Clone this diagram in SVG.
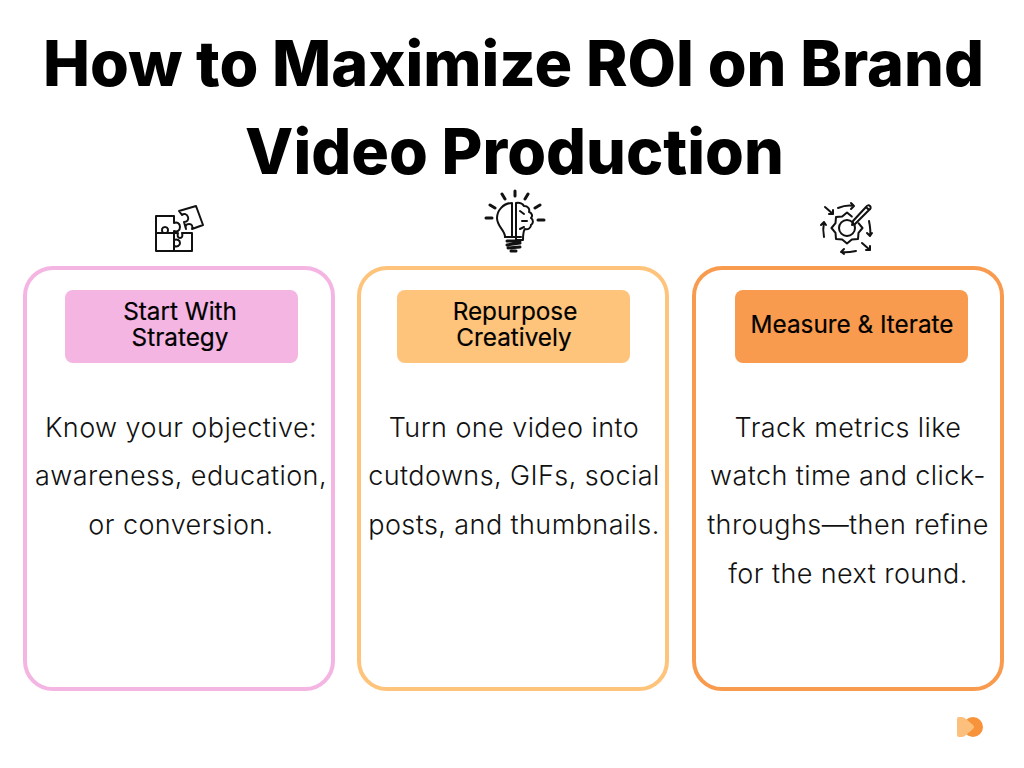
<svg xmlns="http://www.w3.org/2000/svg" width="1024" height="768" viewBox="0 0 1024 768">
<style>
text{font-family:Inter,"Liberation Sans",sans-serif;text-anchor:middle;fill:#000}
.t{font-size:62.800px;font-weight:800}
.h{font-size:24.300px;font-weight:400;stroke:#000;stroke-width:.2px}
.b{font-size:27px;font-weight:300;letter-spacing:.42px;fill:#111}
.card{fill:#fff;stroke-width:4}
.i{fill:none;stroke:#111;stroke-width:2;stroke-linecap:round;stroke-linejoin:round}
.r{stroke-width:3}
</style>
<rect width="1024" height="768" fill="#fff"/>
<g id="title"><text class="t" x="513.500" y="86">How to Maximize ROI on Brand</text><text class="t" x="514.500" y="174">Video Production</text></g>
<g id="card1">
<rect class="card" x="25" y="268" width="308" height="421" rx="28" stroke="#f4b5e3"/>
<rect x="65" y="290" width="233" height="73" rx="8" fill="#f4b5e3"/>
<text class="h"><tspan x="180" y="320">Start With</tspan><tspan x="180" y="346">Strategy</tspan></text>
<text class="b" x="181" y="437">Know your objective:</text><text class="b" x="181" y="485">awareness, education,</text><text class="b" x="181" y="534">or conversion.</text>
<g id="icon1" class="i"><path d="M156 216H174V223c3-1 6 0 6 4s-3 5-6 4V233H156ZM156 233h7c-2-3-1-6 2-6s4 3 2 6h7v18H156ZM174 233h4c-1 3 0 5 2 5s3-2 2-5h10v18H174v-5c3 1 6 0 6-3s-3-4-6-3Z"/><path d="M179 211l17-5 7 19-11 4c1-3 0-5-3-5s-4 2-3 5l-2-7c3 0 5-2 4-5s-4-4-6-2Z"/></g>
</g>
<g id="card2">
<rect class="card" x="359" y="268" width="308" height="421" rx="28" stroke="#fec47b"/>
<rect x="397" y="290" width="233" height="73" rx="8" fill="#fec47b"/>
<text class="h"><tspan x="515" y="320">Repurpose</tspan><tspan x="514" y="346">Creatively</tspan></text>
<text class="b" x="514" y="437">Turn one video into</text><text class="b" x="514" y="485">cutdowns, GIFs, social</text><text class="b" x="514" y="534">posts, and thumbnails.</text>
<g id="icon2" class="i"><path d="M512 203c-9 0-15 8-15 15 0 7 5 10 7 15 1 2 1 3 1 4h7ZM516 203c4-1 7 1 8 3 4 0 6 3 5 6 3 1 4 4 2 6 3 2 2 6 0 7 0 3-3 5-6 4-2 2-2 6-2 11h-7Z"/><path d="M520 211l4 3M522 221h5M520 229l4-2M505 237h16"/><path class="r" d="M507 241h13M507 245l13-2M508 248l12-1M511 251h5M515 191v5M502 194l3 5M528 194l-3 5M490 205l5 3M540 205l-5 3M486 218h6M544 220h-6"/></g>
</g>
<g id="card3">
<rect class="card" x="694" y="268" width="308" height="421" rx="28" stroke="#f99b4e"/>
<rect x="735" y="290" width="233" height="73" rx="8" fill="#f99b4e"/>
<text class="h" x="852" y="333">Measure &amp; Iterate</text>
<text class="b" x="848" y="437">Track metrics like</text><text class="b" x="848" y="485">watch time and click-</text><text class="b" x="848" y="534">throughs—then refine</text><text class="b" x="848" y="583">for the next round.</text>
<g id="icon3" class="i"><circle cx="847" cy="228" r="8"/><path d="M858.500 223.200L862.500 228 858.500 232.800 858 239 851.800 239.500 847 243.500 842.200 239.500 836 239 835.500 232.800 831.500 228 835.500 223.200 836 217 842.200 216.500 847 212.500 851.800 216.500"/><path d="M853 221l13-14 3 3-14 14-3 1ZM866 207c1-2 3-2 4-1s1 3-1 4"/><path d="M838 208c5-2 11-3 16-2M851 203l3 3-3 3M825 207l8 7M833 210v4h-4M869 221c1 5 2 10 1 15M867 233l3 3 2-3M862 243l8 7M870 246v4h-4M856 251c-5 1-10 2-15 1M844 249l-3 3 3 2M824 237c-1-5-1-10 0-15M821 225l3-3 2 3"/></g>
</g>
<g id="logo"><circle cx="973" cy="727" r="10" fill="#f7933a"/><path d="M957 719q0-2 2-2h3q2 0 4 2l7 6q2 2 0 4l-7 6q-2 2-4 2h-3q-2 0-2-2Z" fill="#fdc07c"/></g>
</svg>
